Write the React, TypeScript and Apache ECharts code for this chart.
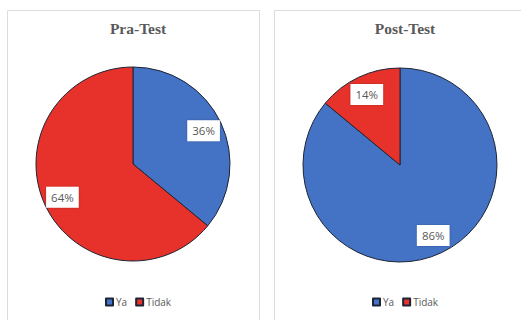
import React, { useEffect, useRef } from "react";
import * as echarts from "echarts";

const categories = ["Ya", "Tidak"];
const preTest = [36, 64];
const postTest = [86, 14];
const titles = ["Pra-Test", "Post-Test"];

const COLORS = ["#4472C4", "#E6322A"];

export default function App() {
  const ref = useRef<HTMLDivElement>(null);
  useEffect(() => {
    if (!ref.current) return;
    const chart = echarts.init(ref.current, undefined, { renderer: "svg" });
    const centers: [number, number][] = [
      [133, 164],
      [400, 165],
    ];
    const datasets = [preTest, postTest];
    const series: any[] = [];
    datasets.forEach((vals, i) => {
      const data = categories.map((c, j) => ({ name: c, value: vals[j] }));
      series.push({
        type: "pie",
        center: centers[i],
        radius: [0, 97],
        startAngle: 90,
        clockwise: true,
        silent: true,
        label: { show: false },
        labelLine: { show: false },
        itemStyle: { borderColor: "#1d2535", borderWidth: 1 },
        data,
      });
      series.push({
        type: "pie",
        center: centers[i],
        radius: [53, 97],
        startAngle: 90,
        clockwise: true,
        silent: true,
        legendHoverLink: false,
        itemStyle: { color: "transparent", borderWidth: 0 },
        label: {
          show: true,
          position: "inside",
          formatter: (p: any) => Math.round(p.percent) + "%",
          backgroundColor: "#ffffff",
          padding: [5, 5, 4, 5],
          color: "#595959",
          fontSize: 11.5,
          fontFamily: "Open Sans",
          shadowBlur: 2,
          shadowColor: "rgba(0,0,0,0.25)",
        },
        labelLine: { show: false },
        data,
      });
    });

    chart.setOption({
      animation: false,
      color: COLORS,
      graphic: [
        {
          type: "rect",
          shape: { x: 7.5, y: 10.5, width: 252, height: 330 },
          style: { fill: "#fff", stroke: "#dcdcdc", lineWidth: 1 },
          z: -10,
        },
        {
          type: "rect",
          shape: { x: 274.5, y: 10.5, width: 260, height: 330 },
          style: { fill: "#fff", stroke: "#dcdcdc", lineWidth: 1 },
          z: -10,
        },
      ],
      title: titles.map((t, i) => ({
        text: t,
        left: centers[i][0],
        top: 15,
        padding: 5,
        textAlign: "center",
        textStyle: {
          fontFamily: "Liberation Serif",
          fontWeight: "bold",
          fontSize: 15.5,
          color: "#595959",
        },
      })),
      legend: centers.map((c) => ({
        data: categories,
        left: c[0] - 28,
        top: 297,
        padding: 0,
        itemWidth: 7,
        itemHeight: 7,
        itemGap: 8,
        icon: "rect",
        selectedMode: false,
        textStyle: {
          fontSize: 10,
          color: "#595959",
          fontFamily: "Open Sans",
          padding: [0, 0, 0, -2],
        },
      })),
      series,
    });
    return () => chart.dispose();
  }, []);
  return (
    <div
      ref={ref}
      style={{ position: "fixed", left: 0, top: 0, width: 521, height: 320, background: "#fff" }}
    />
  );
}
